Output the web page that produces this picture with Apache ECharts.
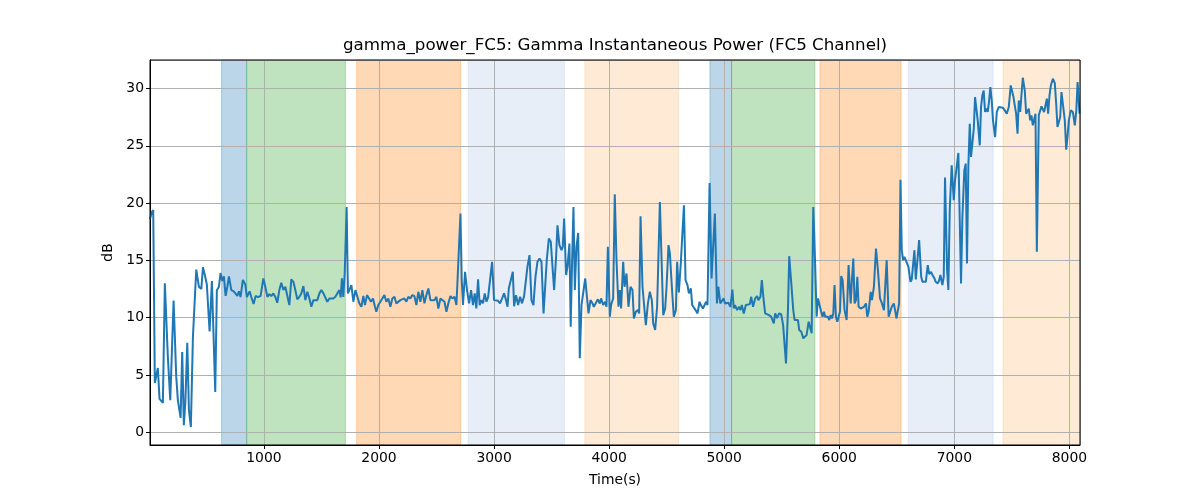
<!DOCTYPE html>
<html>
<head>
<meta charset="utf-8">
<script src="https://cdn.jsdelivr.net/npm/echarts@6/dist/echarts.min.js"></script>
<style>
html,body{margin:0;padding:0;background:#fff;}
#chart{width:1200px;height:500px;}
</style>
</head>
<body>
<div id="chart"></div>
<script>
// ---- data ----
var chartTitle = 'gamma_power_FC5: Gamma Instantaneous Power (FC5 Channel)';
var xLabel = 'Time(s)';
var yLabel = 'dB';

var times = [
  10,25,38,52,64,78,93,108,122,139, 165,186,215,238,252,276,290,304,317,334,
  348,365,383,412,435,456,470,487,504,528, 548,577,591,609,623,638,652,667,682,696,
  717,737,754,769,783,797,817,838,852,876, 890,910,928,948,
  971,995,1012,1030,1047,1064,1082,1099,1116,1134, 1151,1169,1186,1203,1221,1238,1256,1273,1290,1308,
  1325,1343,1360,1377,1395,1412,1430,1447,1464,1482, 1499,1517,1534,1551,1569,1586,1603,1621,1638,1656,
  1667,1678,1690,1702,1719,1730,1742,1760,1777,1795, 1812,1829,1847,1864,
  1878,1896,1913,1930,1948,1965,1977,1994,2012,2029, 2047,2064,2081,2099,2116,2134,2151,2168,2186,2203,
  2221,2238,2255,2273,2290,2308,2325,2342,2360,2377, 2395,2412,2429,2447,2464,2482,2499,2516,2534,2551,
  2569,2586,2603,2621,2638,2656,2673,2690,2708,2719, 2730,2748,2765,2783,
  2800,2817,2832,2846,2861,2875,2890,2904,2919,2934, 2948,2963,2983,3000,3017,3035,3052,3070,3087,3104,
  3117,3128,3145,3163,3174,3191,3209,3226,3243,3261, 3278,3290,3308,3325,3342,3360,3377,3395,3412,3430,
  3441,3458,3476,3493,3510,3522,3539,3551,3568,3586, 3597,3609,3626,3638,3655,3666,3678,3690,
  3702,3716,3731,3745,3760,3774,3792,3809,3821,3838, 3856,3867,3884,3902,3919,3930,3948,3965,3977,3989,
  4006,4017,4035,4049,4064,4081,4093,4104,4122,4134, 4151,4168,4186,4203,4215,4232,4250,4261,4273,4290,
  4302,4319,4337,4354,4371,4383,4400,4417,4430,4441, 4458,4470,4487,4499,4516,4528,4545,4562,4580,4591,
  4606,
  4623,4635,4650,4664,4681,4693,4710,4722,4739,4751, 4768,4786,4797,4815,4826,4843,4855,4873,4890,4919,
  4937,4949,4966,4978,4995,5007,5024,5036,5054,5071, 5083,5094,5112,5129,5141,5153,5170,5188,5205,5223,
  5234,5251,5269,5286,5297,5315,5327,5344,5356,5373, 5390,5408,5419,5431,5443,5460,5477,5495,5512,
  5537,5554,5565,5583,5600,5612,5629,5641,5652,5670, 5687,5704,5716,5734,5745,5760,5774,5791,5803,5815,
  5832,5843,5855,5867,5878,5890,5901,5913,5925,5936, 5948,5959,5971,5983,5994,6006,6017,6029,6046,6064,
  6081,6099,6110,6122,6133,6145,6157,6168,6186,6203, 6215,6232,6243,6255,6273,6284,6301,6319,6336,6354,
  6371,6388,6400,6412,6429,
  6441,6456,6474,6485,6497,6508,6520,6532,6543,6555, 6566,6578,6590,6601,6619,6630,6642,6653,6665,6677,
  6694,6712,6723,6740,6752,6769,6781,6798,6810,6827, 6838,6856,6867,6879,6896,6908,6919,6937,6948,6960,
  6977,6995,7006,7017,7035,7047,7058,7070,7087,7099, 7110,7122,7134,7145,7157,7169,7180,7191,7203,7221,
  7232,7243,7255,7267,7278,7290,7301,7313,7325,7336,
  7354,7369,7386,7403,7421,7438,7456,7473,7490,7502, 7514,7525,7537,7549,7560,7572,7583,7595,7612,7624,
  7635,7647,7659,7670,7682,7693,7705,7717,7734,7745, 7757,7769,7780,7792,7804,7815,7827,7839,7856,7873,
  7885,7896,7908,7920,7931,7943,7960,7972,7983,7995, 8012,8030,8047,8060,8071,8088
];

var powerDb = [
  18.6,19.2,19.4,4.3,4.3,5.6,2.9,2.8,2.55,13.0, 6.6,2.8,11.5,4.85,2.8,1.25,7.0,0.6,2.6,7.8,
  2.0,0.45,8.3,14.2,12.7,12.5,14.4,13.7,12.9,8.8, 13.2,3.5,12.4,12.7,13.9,13.2,13.6,11.9,12.7,13.6,
  12.4,12.3,12.1,11.9,12.3,11.8,13.3,12.9,11.8,12.3, 11.8,11.2,11.9,11.8,
  11.88,13.43,12.7,11.82,12.06,11.88,12.12,11.82,11.3,12.41, 13.05,12.41,12.7,12.55,11.1,13.34,13.13,12.41,11.6,11.82,
  12.12,12.76,11.53,12.26,11.68,10.95,11.53,11.68,11.53,12.12, 12.41,12.12,12.26,11.39,11.68,11.77,11.68,11.82,12.12,12.41,
  11.77,13.43,11.82,13.86,19.67,12.12,12.41,12.84,11.39,12.41, 12.55,11.25,10.95,11.9,
  11.1,11.97,12.06,11.39,11.68,10.95,10.51,11.1,11.39,11.68, 11.97,11.39,11.68,10.95,11.68,11.82,11.25,11.1,11.53,11.39,
  11.68,11.39,11.82,11.68,11.97,11.88,11.1,12.26,11.39,12.41, 11.25,11.97,12.55,11.53,11.68,11.53,11.82,10.8,11.68,11.53,
  11.39,10.51,11.25,11.88,11.68,11.82,11.1,10.95,19.09,13.28, 11.1,14.0,12.41,11.25,
  12.41,11.1,12.12,10.8,13.34,11.1,11.53,11.25,12.12,11.39, 11.77,11.82,14.88,11.53,11.39,11.47,11.25,11.68,12.12,11.53,
  10.95,12.55,12.7,14.0,11.0,11.97,11.1,11.82,11.25,11.88, 11.97,14.44,15.46,11.53,11.1,13.57,14.88,15.17,14.88,10.37,
  10.51,15.02,16.91,16.62,16.47,12.41,15.31,18.07,16.33,15.89, 16.18,18.65,13.72,14.44,16.47,9.2,14.88,19.67,
  12.41,16.18,17.4,6.45,11.1,11.24,13.42,13.28,10.37,11.53, 11.24,10.95,10.95,11.6,11.24,11.68,11.1,11.39,10.95,16.18,
  10.08,11.1,11.68,20.78,15.02,10.95,12.41,10.8,14.88,12.7, 13.86,10.95,12.7,12.41,9.93,10.51,10.66,10.37,18.86,12.7,
  12.84,9.35,11.24,12.26,11.53,9.5,8.92,10.95,15.89,20.1, 20.19,10.22,10.8,12.7,16.33,15.6,12.7,10.08,10.66,14.88,
  12.2,
  14.8,14.74,19.82,13.28,12.84,12.12,12.55,11.1,11.24,10.66, 10.37,11.39,11.1,10.8,10.66,11.39,11.1,21.76,13.43,19.09,
  11.24,12.7,11.24,11.39,11.68,11.24,11.24,11.3,10.95,12.46, 10.8,11.1,10.66,10.95,10.66,11.1,10.37,11.1,11.0,11.18,
  11.82,10.95,11.68,11.88,11.53,11.82,13.28,11.39,10.37,10.51, 10.22,10.08,10.22,9.5,10.37,9.95,10.37,10.3,9.35,
  6.01,10.66,15.37,12.99,10.66,9.79,9.65,9.79,8.92,8.77, 8.19,8.19,8.48,9.65,9.21,8.63,19.67,14.44,10.08,11.68,
  11.53,10.51,10.08,10.51,10.08,10.22,10.08,9.79,10.22,9.93, 10.37,12.84,10.08,9.65,9.65,10.51,13.63,13.28,10.66,9.79,
  14.59,11.24,13.28,15.17,11.24,11.53,13.57,10.95,10.8,10.8, 10.95,11.24,10.08,10.51,12.26,11.53,12.7,16.04,14.15,11.68,
  11.24,10.66,10.66,15.02,10.08,
  10.08,10.95,11.24,10.66,9.93,10.08,11.24,22.05,15.89,15.02, 15.31,15.02,15.17,14.44,13.13,13.34,13.28,15.89,13.34,13.43,
  16.77,13.57,13.13,12.99,13.13,14.59,13.8,14.0,13.72,13.43, 13.13,12.99,13.22,13.72,12.84,13.57,22.23,14.15,12.41,19.38,
  23.3,20.25,22.0,22.88,24.38,18.51,12.99,18.8,22.88,23.45, 14.74,23.3,26.94,24.03,24.18,26.5,29.26,29.4,27.23,25.05,
  28.39,29.4,29.84,27.96,28.25,27.96,28.83,30.13,28.97,27.23,
  25.77,27.96,28.39,28.45,28.34,28.1,27.81,28.39,30.28,30.13, 29.26,28.54,27.81,26.07,28.97,27.96,29.4,30.95,29.84,27.81,
  27.67,28.25,27.23,27.67,26.79,26.94,27.81,15.75,27.67,27.81, 28.45,28.54,27.96,27.96,29.12,27.81,29.4,30.28,30.86,30.48,
  28.68,26.65,26.65,27.52,29.7,28.68,27.23,24.67,25.77,27.23, 28.1,27.96,26.79,28.1,30.57,27.81
];

// shaded phases
var bandStart = [632, 850, 1806, 2774, 3789, 4876, 5064, 5832, 6600, 7423];
var bandEnd   = [850, 1708, 2709, 3612, 4603, 5064, 5788, 6537, 7337, 8092];
var bandKind  = ['a', 'b', 'c', 'd', 'e', 'a', 'b', 'c', 'd', 'e'];

var xRange = [10, 8092];
var yRange = [-1.12, 32.5];

// ---- chart ----
var kindColor = {
  a: 'rgba(31,119,180,0.3)',
  b: 'rgba(44,160,44,0.3)',
  c: 'rgba(255,127,14,0.3)',
  d: 'rgba(174,199,232,0.3)',
  e: 'rgba(255,187,120,0.3)'
};
var areas = bandStart.map(function (s, i) {
  var c = kindColor[bandKind[i]];
  return [{ xAxis: s, itemStyle: { color: c, borderColor: c, borderWidth: 1 } }, { xAxis: bandEnd[i] }];
});
var lineData = times.map(function (t, i) { return [t, powerDb[i]]; });

var FONT = 'DejaVu Sans';
var chart = echarts.init(document.getElementById('chart'), null, { renderer: 'canvas' });
chart.setOption({
  animation: false,
  backgroundColor: '#ffffff',
  textStyle: { fontFamily: FONT, color: '#000' },
  grid: { left: 150, right: 120, top: 60, bottom: 55, show: true, borderColor: '#000', borderWidth: 1, backgroundColor: 'transparent', z: 4 },
  graphic: [{
    type: 'text', x: 615, y: 46,
    style: { text: chartTitle, font: '16.7px "DejaVu Sans"', fill: '#000', align: 'center', verticalAlign: 'middle' }
  }],
  xAxis: {
    type: 'value', min: xRange[0], max: xRange[1], splitNumber: 8, z: 2,
    name: xLabel, nameLocation: 'middle', nameGap: 28,
    nameTextStyle: { fontFamily: FONT, fontSize: 13.9, color: '#000' },
    axisLine: { show: true, onZero: false, lineStyle: { color: '#000', width: 1 } },
    axisTick: { show: true, length: 4, lineStyle: { color: '#000', width: 1 } },
    axisLabel: { show: true, margin: 6, fontFamily: FONT, fontSize: 13.9, color: '#000',
      showMinLabel: false, showMaxLabel: false,
      formatter: function (v) { return String(v); } },
    splitLine: { show: true, lineStyle: { color: '#b0b0b0', width: 1 } }
  },
  yAxis: {
    type: 'value', min: yRange[0], max: yRange[1], splitNumber: 7, z: 2,
    name: yLabel, nameLocation: 'middle', nameGap: 34,
    nameTextStyle: { fontFamily: FONT, fontSize: 13.9, color: '#000' },
    axisLine: { show: true, onZero: false, lineStyle: { color: '#000', width: 1 } },
    axisTick: { show: true, length: 4, lineStyle: { color: '#000', width: 1 } },
    axisLabel: { show: true, margin: 6, fontFamily: FONT, fontSize: 13.9, color: '#000',
      showMinLabel: false, showMaxLabel: false,
      formatter: function (v) { return String(v); } },
    splitLine: { show: true, lineStyle: { color: '#b0b0b0', width: 1 } }
  },
  series: [
    {
      type: 'line', data: [], z: 1, silent: true,
      markArea: { silent: true, data: areas }
    },
    {
      type: 'line', data: lineData, z: 3, showSymbol: false, clip: true,
      lineStyle: { color: '#1f77b4', width: 2 }, itemStyle: { color: '#1f77b4' }
    }
  ]
});
</script>
</body>
</html>
